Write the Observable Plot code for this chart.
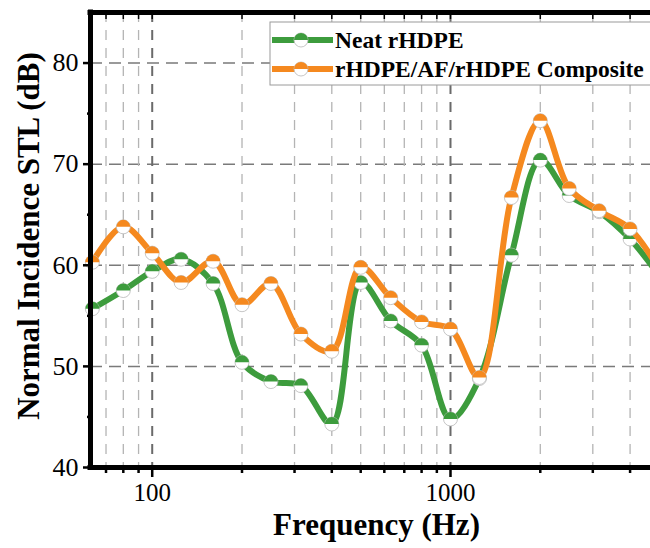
<!DOCTYPE html>
<html><head><meta charset="utf-8">
<script src="https://cdn.jsdelivr.net/npm/d3@7"></script>
<script src="https://cdn.jsdelivr.net/npm/@observablehq/plot@0.6"></script>
<style>body{margin:0;background:#fff} svg{display:block}</style>
</head><body><div id="chart"></div>
<script>
const frequencies = [63, 80, 100, 125, 160, 200, 250, 315, 400, 500, 630, 800, 1000, 1250, 1600, 2000, 2500, 3150, 4000, 5000];
const neatSTL = [55.7, 57.5, 59.4, 60.6, 58.2, 50.4, 48.5, 48.1, 44.3, 58.3, 54.5, 52.1, 44.8, 48.8, 61.0, 70.4, 66.9, 65.3, 62.6, 59.0];
const compositeSTL = [60.3, 63.8, 61.2, 58.3, 60.4, 56.1, 58.2, 53.2, 51.5, 59.8, 56.8, 54.4, 53.7, 48.9, 66.7, 74.3, 67.6, 65.4, 63.6, 59.6];
const seriesNames = ["Neat rHDPE", "rHDPE/AF/rHDPE Composite"];
const seriesColors = ["#3d9c3d", "#f5891f"];
const xDomain = [62.1, 4683];
const yDomain = [40, 85];
const yTicks = [40, 50, 60, 70, 80];
const yMinorTicks = [45, 55, 65, 75];
const yGridTicks = [50, 60, 70, 80];
const xMajorTicks = [100, 1000];
const xMinorTicks = [70, 80, 90, 200, 300, 400, 500, 600, 700, 800, 900, 2000, 3000, 4000];
const xTitle = "Frequency (Hz)";
const yTitle = "Normal Incidence STL (dB)";

const serif = "'Liberation Serif', 'Times New Roman', serif";

// half-filled marker (upper half)
const halfTop = {
  draw(context, size) {
    const r = Math.sqrt(size / Math.PI);
    context.moveTo(-r, 0);
    context.arc(0, 0, r, Math.PI, 2 * Math.PI);
    context.closePath();
  }
};

const neatRows = frequencies.map((f, i) => ({f, v: neatSTL[i]}));
const compRows = frequencies.map((f, i) => ({f, v: compositeSTL[i]}));
const R = 7;

function seriesMarks(rows, color) {
  return [
    Plot.line(rows, {x: "f", y: "v", stroke: color, strokeWidth: 6, curve: "catmull-rom"}),
    Plot.dot(rows, {x: "f", y: "v", r: R, fill: "white", stroke: "#b8b8b8", strokeWidth: 0.8}),
    Plot.dot(rows, {x: "f", y: "v", r: R, fill: color, symbol: halfTop, stroke: "none"})
  ];
}

const chart = Plot.plot({
  width: 650,
  height: 548,
  marginLeft: 90,
  marginRight: 0,
  marginTop: 12,
  marginBottom: 81,
  style: {fontFamily: serif, background: "white", color: "black"},
  x: {type: "log", domain: xDomain},
  y: {domain: yDomain},
  marks: [
    Plot.ruleY(yGridTicks, {stroke: "#7a7a7a", strokeWidth: 1.5, strokeDasharray: "12,7"}),
    Plot.ruleX(xMinorTicks, {stroke: "#b4b4b4", strokeWidth: 1.3, strokeDasharray: "10,8"}),
    Plot.ruleX(xMajorTicks, {stroke: "#6a6a6a", strokeWidth: 2, strokeDasharray: "10,8"}),
    ...seriesMarks(neatRows, seriesColors[0]),
    ...seriesMarks(compRows, seriesColors[1]),
    Plot.axisY({ticks: yTicks, tickSize: 7, tickPadding: 5, fontSize: 26, label: null, strokeWidth: 2.5}),
    Plot.axisY({ticks: yMinorTicks, tickSize: 3, tickFormat: () => "", label: null, strokeWidth: 2.5}),
    Plot.axisX({ticks: xMajorTicks, tickSize: 10, tickPadding: 6, fontSize: 25, label: null, tickFormat: d3.format("d"), strokeWidth: 2.5}),
    Plot.axisX({ticks: xMinorTicks, tickSize: 6, tickFormat: () => "", label: null, strokeWidth: 2.5}),
    Plot.axisX({anchor: "top", ticks: xMinorTicks.concat(xMajorTicks), tickSize: -6, tickFormat: () => "", label: null, strokeWidth: 1.5}),
    Plot.ruleX([xDomain[0]], {stroke: "black", strokeWidth: 5, strokeLinecap: "square"}),
    Plot.ruleY([yDomain[0]], {stroke: "black", strokeWidth: 5, strokeLinecap: "square"}),
    Plot.ruleY([yDomain[1]], {stroke: "black", strokeWidth: 5, strokeLinecap: "square"}),
    Plot.text([xTitle], {frameAnchor: "bottom", lineAnchor: "bottom", textAnchor: "middle", dy: 67, dx: 6, fontSize: 31, fontWeight: "bold", fill: "black"}),
    Plot.text([yTitle], {frameAnchor: "left", textAnchor: "middle", lineAnchor: "middle", rotate: -90, dx: -61, dy: -4, fontSize: 31, fontWeight: "bold", fill: "black"})
  ]
});

document.getElementById("chart").appendChild(chart);

// Legend
const svg = d3.select(chart);
const lg = svg.append("g").attr("class", "legend");
lg.append("rect").attr("x", 270).attr("y", 22).attr("width", 390).attr("height", 63)
  .attr("fill", "white").attr("stroke", "#9a9a9a").attr("stroke-width", 1);
const legendRows = [40, 69];
seriesNames.forEach((name, i) => {
  const y = legendRows[i];
  lg.append("line").attr("x1", 272).attr("x2", 333).attr("y1", y).attr("y2", y)
    .attr("stroke", seriesColors[i]).attr("stroke-width", 6);
  lg.append("circle").attr("cx", 301).attr("cy", y).attr("r", R)
    .attr("fill", "white").attr("stroke", "#b8b8b8").attr("stroke-width", 0.8);
  lg.append("path").attr("transform", `translate(301,${y})`)
    .attr("d", d3.symbol(halfTop, Math.PI * R * R)())
    .attr("fill", seriesColors[i]);
  lg.append("text").attr("x", 335).attr("y", y + 8)
    .attr("text-anchor", "start")
    .attr("font-family", serif).attr("font-weight", "bold").attr("font-size", 23.5)
    .attr("fill", "black").text(name);
});
</script>
</body></html>
